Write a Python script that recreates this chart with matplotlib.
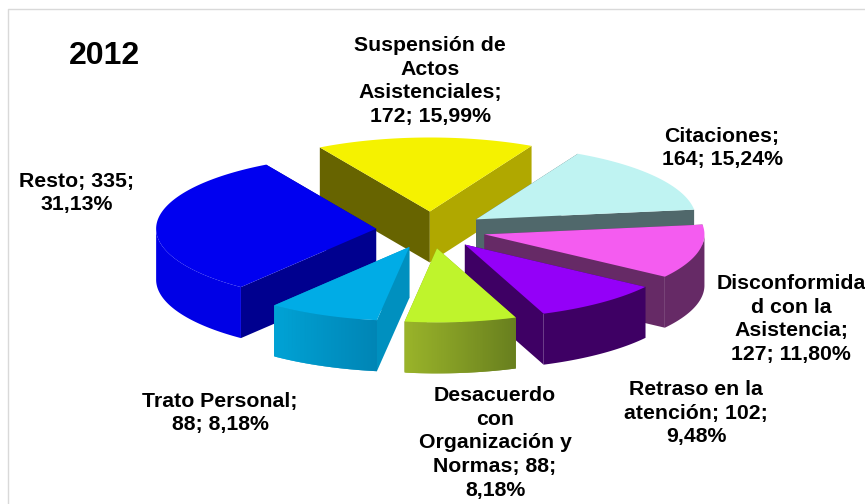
import matplotlib
matplotlib.use("Agg")
import matplotlib.pyplot as plt
import numpy as np

plt.rcParams['font.family'] = ['Liberation Sans', 'DejaVu Sans']

values = [172, 164, 127, 102, 88, 88, 335]
label_text = ["Suspensión de\nActos\nAsistenciales;\n172; 15,99%",
              "Citaciones;\n164; 15,24%",
              "Disconformida\nd con la\nAsistencia;\n127; 11,80%",
              "Retraso en la\natención; 102;\n9,48%",
              "Desacuerdo\ncon\nOrganización y\nNormas; 88;\n8,18%",
              "Trato Personal;\n88; 8,18%",
              "Resto; 335;\n31,13%"]
title = "2012"

# pie layout, in figure pixels
cx, cy = 431, 230
rx, ry = 220, 74
depth = 51
explode = 0.25
start_angle = 120

label_x = [430, 722, 791, 696, 495, 220, 77]
label_y = [81, 148, 319, 413, 443, 413, 193]

top_colors = ['#F5F200', '#BFF3F2', '#F45CF0', '#9400F8', '#BFF42C', '#00ACE6', '#0000F0']
start_wall = ['#676400', '#50686B', '#662A66', '#3E0064', '#88A024', '#0090BF', '#00008F']
end_wall = ['#B0A800', '#50686B', '#662A66', '#3E0064', '#88A024', '#0090BF', '#00008F']
outer_left = ['#B0A800', '#50686B', '#662A66', '#3E0064', '#9AB42A', '#00A3D6', '#0000E6']
outer_right = ['#B0A800', '#50686B', '#662A66', '#3E0064', '#687F1E', '#0085B5', '#0000E6']
draw_order = [0, 1, 2, 6, 3, 5, 4]


def to_rgb(c):
    return np.array(matplotlib.colors.to_rgb(c))


def ring(x0, y0, t):
    return x0 + rx * np.cos(np.radians(t)), y0 - ry * np.sin(np.radians(t))


fig = plt.figure(figsize=(8.65, 5.04), dpi=100)
ax = fig.add_axes([0, 0, 1, 1])
ax.set_xlim(0, 865)
ax.set_ylim(504, 0)
ax.axis('off')

# chart frame
ax.plot([8, 8, 865], [504, 9, 9], color='#D9D9D9', lw=1, zorder=1)

shares = np.array(values) / np.sum(values) * 360
starts = start_angle - np.concatenate([[0], np.cumsum(shares)[:-1]])
ends = starts - shares

z = 2
for i in draw_order:
    mid = (starts[i] + ends[i]) / 2
    x0 = cx + explode * rx * np.cos(np.radians(mid))
    y0 = cy - explode * ry * np.sin(np.radians(mid))

    for t, c in ((starts[i], start_wall[i]), (ends[i], end_wall[i])):
        x, y = ring(x0, y0, t)
        ax.fill([x0, x, x, x0], [y0, y, y + depth, y0 + depth], color=c, lw=0, zorder=z)
        z += 1

    # outer wall, only the part that faces the viewer
    t = np.linspace(starts[i], ends[i], 120)
    t = t[np.sin(np.radians(t)) <= 0.001]
    if len(t) > 1:
        xs, ys = ring(x0, y0, t)
        order = np.argsort(xs)
        xs, ys = xs[order], ys[order]
        if outer_left[i] == outer_right[i]:
            ax.fill(np.r_[xs, xs[::-1]], np.r_[ys, ys[::-1] + depth], color=outer_left[i], lw=0, zorder=z)
            z += 1
        else:
            left, right = to_rgb(outer_left[i]), to_rgb(outer_right[i])
            # strips overlap the next one so no seams show through
            for k in range(len(xs) - 1):
                f = (k + 0.5) / (len(xs) - 1)
                e = min(k + 3, len(xs))
                ax.fill(np.r_[xs[k:e], xs[k:e][::-1]],
                        np.r_[ys[k:e], ys[k:e][::-1] + depth],
                        color=left + (right - left) * f, lw=0, zorder=z)
                z += 1

    t = np.linspace(starts[i], ends[i], 120)
    xs, ys = ring(x0, y0, t)
    ax.fill(np.r_[x0, xs], np.r_[y0, ys], color=top_colors[i], lw=0, zorder=z)
    z += 1

for i in range(len(values)):
    ax.text(label_x[i], label_y[i], label_text[i], ha='center', va='center', fontsize=15.3,
            fontweight='bold', color='black', linespacing=1.33, zorder=z)

ax.text(104, 56, title, ha='center', va='center', fontsize=23, fontweight='bold', color='black', zorder=z)

fig.savefig('out.png', dpi=100)
